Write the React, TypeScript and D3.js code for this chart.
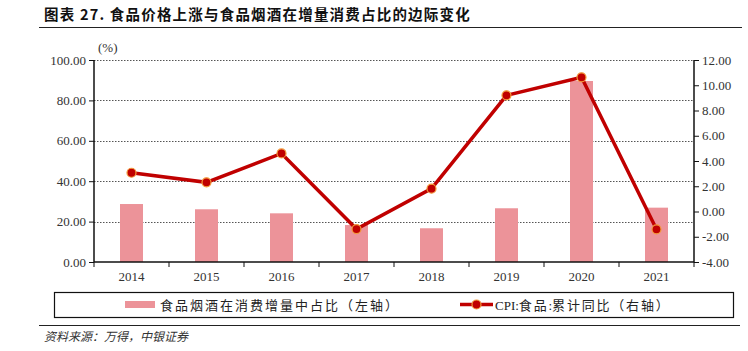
import React, { useEffect, useRef } from "react";
import * as d3 from "d3";

const years = ["2014", "2015", "2016", "2017", "2018", "2019", "2020", "2021"];
const shareValues = [28.7, 26.1, 24.1, 18.3, 16.7, 26.6, 89.6, 26.9];
const cpiValues = [3.07, 2.31, 4.6, -1.39, 1.81, 9.2, 10.63, -1.41];
const leftTicks = [0, 20, 40, 60, 80, 100];
const rightTicks = [-4, -2, 0, 2, 4, 6, 8, 10, 12];

const serif = "'Liberation Serif', 'Times New Roman', serif";
const cjk = "'Noto Sans CJK SC', sans-serif";

const App: React.FC = () => {
  const svgRef = useRef<SVGSVGElement | null>(null);

  useEffect(() => {
    if (!svgRef.current) return;
    const svg = d3.select(svgRef.current);
    svg.selectAll("*").remove();

    const margin = { top: 60, left: 94, right: 54, bottom: 89 };
    const width = 748 - margin.left - margin.right;
    const height = 351 - margin.top - margin.bottom;

    // title
    svg
      .append("text")
      .attr("x", 44)
      .attr("y", 20)
      .style("font", `bold 14.5px ${cjk}`)
      .attr("letter-spacing", "1.2px")
      .attr("fill", "#111")
      .text("图表 27. 食品价格上涨与食品烟酒在增量消费占比的边际变化");
    svg
      .append("line")
      .attr("x1", 39)
      .attr("x2", 742)
      .attr("y1", 27.5)
      .attr("y2", 27.5)
      .attr("stroke", "#222")
      .attr("stroke-width", 1);

    const xb = d3.scaleBand().domain(years).range([0, width]);
    const yL = d3.scaleLinear().domain([0, 100]).range([height, 0]);
    const yR = d3.scaleLinear().domain([-4, 12]).range([height, 0]);

    const g = svg.append("g").attr("transform", `translate(${margin.left},${margin.top})`);

    // grid
    g.selectAll(".grid")
      .data(leftTicks.slice(1))
      .enter()
      .append("line")
      .attr("x1", 0)
      .attr("x2", width)
      .attr("y1", (d) => Math.round(yL(d)) + 0.5)
      .attr("y2", (d) => Math.round(yL(d)) + 0.5)
      .attr("stroke", "#555")
      .attr("stroke-dasharray", "1.5,1.5")
      .attr("stroke-width", 1);

    // bars
    g.selectAll(".bar")
      .data(shareValues)
      .enter()
      .append("rect")
      .attr("x", (d, i) => xb(years[i])! + xb.bandwidth() / 2 - 11.5)
      .attr("width", 23)
      .attr("y", (d) => yL(d))
      .attr("height", (d) => height - yL(d))
      .attr("fill", "#EC9399");

    // axes
    const axL = g
      .append("g")
      .call(
        d3
          .axisLeft(yL)
          .tickValues(leftTicks)
          .tickSize(5)
          .tickFormat((d) => d3.format(".2f")(d as number))
      );
    const axR = g
      .append("g")
      .attr("transform", `translate(${width},0)`)
      .call(
        d3
          .axisRight(yR)
          .tickValues(rightTicks)
          .tickSize(5)
          .tickFormat((d) => d3.format(".2f")(d as number).replace("−", "-"))
      );
    const axX = g
      .append("g")
      .attr("transform", `translate(0,${height})`)
      .call(d3.axisBottom(xb).tickSize(0));
    [axL, axR, axX].forEach((ax) => {
      ax.select(".domain").attr("stroke", "#111").attr("stroke-width", 1.5);
      ax.selectAll(".tick line").attr("stroke", "#111");
      ax.selectAll(".tick text")
        .style("font-family", serif)
        .style("font-size", "13px")
        .attr("fill", "#333");
    });
    axL.select(".domain").attr("d", `M0,${height}V0`);
    axR.select(".domain").attr("d", `M0,${height}V0`);
    axX.select(".domain").attr("d", `M0,0H${width}`);
    axL.selectAll(".tick text").attr("x", -8);
    axR.selectAll(".tick text").attr("x", 8);
    axX.selectAll(".tick text").attr("y", 10);
    // category boundary ticks
    axX.selectAll(".bnd")
      .data(d3.range(years.length + 1))
      .enter()
      .append("line")
      .attr("x1", (i) => i * xb.step())
      .attr("x2", (i) => i * xb.step())
      .attr("y1", 0)
      .attr("y2", 5)
      .attr("stroke", "#111");

    // unit label
    svg
      .append("text")
      .attr("x", 98)
      .attr("y", 52)
      .style("font", `13px ${serif}`)
      .attr("fill", "#333")
      .text("(%)");

    // line
    const line = d3
      .line<number>()
      .x((d, i) => xb(years[i])! + xb.bandwidth() / 2)
      .y((d) => yR(d));
    g.append("path")
      .datum(cpiValues)
      .attr("d", line)
      .attr("fill", "none")
      .attr("stroke", "#C00000")
      .attr("stroke-width", 3.5);
    g.selectAll(".pt")
      .data(cpiValues)
      .enter()
      .append("circle")
      .attr("cx", (d, i) => xb(years[i])! + xb.bandwidth() / 2)
      .attr("cy", (d) => yR(d))
      .attr("r", 4.5)
      .attr("fill", "#C00000")
      .attr("stroke", "#F39A3C")
      .attr("stroke-width", 1.2);

    // legend
    svg
      .append("rect")
      .attr("x", 54.5)
      .attr("y", 292.5)
      .attr("width", 679)
      .attr("height", 25)
      .attr("fill", "none")
      .attr("stroke", "#111")
      .attr("stroke-width", 1.2);
    svg
      .append("rect")
      .attr("x", 125)
      .attr("y", 301)
      .attr("width", 30)
      .attr("height", 7)
      .attr("fill", "#EC9399");
    svg
      .append("text")
      .attr("x", 160)
      .attr("y", 309.5)
      .style("font", `13px ${cjk}`)
      .attr("letter-spacing", "2px")
      .attr("fill", "#222")
      .text("食品烟酒在消费增量中占比（左轴）");
    svg
      .append("line")
      .attr("x1", 460)
      .attr("x2", 493)
      .attr("y1", 304.5)
      .attr("y2", 304.5)
      .attr("stroke", "#C00000")
      .attr("stroke-width", 3.5);
    svg
      .append("circle")
      .attr("cx", 476.5)
      .attr("cy", 304.5)
      .attr("r", 4.5)
      .attr("fill", "#C00000")
      .attr("stroke", "#F39A3C")
      .attr("stroke-width", 1.2);
    const lt = svg
      .append("text")
      .attr("x", 495)
      .attr("y", 309.5)
      .style("font-size", "13px")
      .attr("fill", "#222");
    lt.append("tspan").style("font-family", serif).text("CPI:");
    lt.append("tspan").style("font-family", cjk).attr("letter-spacing", "1.8px").text("食品");
    lt.append("tspan").style("font-family", serif).text(":");
    lt.append("tspan").style("font-family", cjk).attr("letter-spacing", "1.8px").text("累计同比（右轴）");

    svg
      .append("line")
      .attr("x1", 39)
      .attr("x2", 740)
      .attr("y1", 325.5)
      .attr("y2", 325.5)
      .attr("stroke", "#222")
      .attr("stroke-width", 1);
    svg
      .append("text")
      .attr("x", 44)
      .attr("y", 341)
      .style("font", `italic 12px ${cjk}`)
      .attr("fill", "#333")
      .text("资料来源：万得，中银证券");
  }, []);

  return (
    <svg
      ref={svgRef}
      width={748}
      height={351}
      style={{ position: "absolute", left: 0, top: 0, background: "#fff" }}
    />
  );
};

export default App;
